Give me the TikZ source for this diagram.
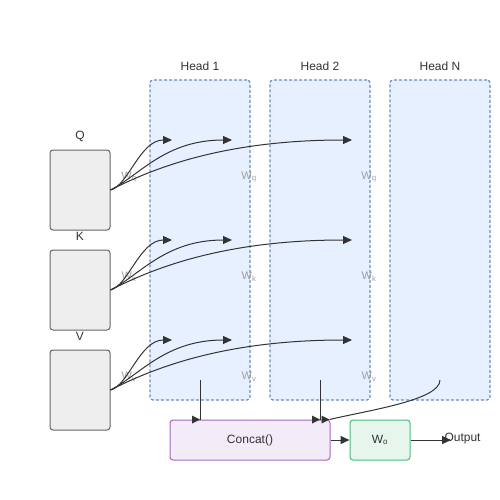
\documentclass[tikz,border=0pt]{standalone}
\usepackage{fontspec}
\setmainfont{Liberation Sans}
\usetikzlibrary{arrows.meta}
\definecolor{headfill}{HTML}{E6F0FE}
\definecolor{headline}{HTML}{6C8EBF}
\definecolor{inpfill}{HTML}{EEEEEE}
\definecolor{inpline}{HTML}{666666}
\definecolor{catfill}{HTML}{F3ECF8}
\definecolor{catline}{HTML}{A567C4}
\definecolor{wofill}{HTML}{E6F6EC}
\definecolor{woline}{HTML}{4DBB7B}
\definecolor{ink}{HTML}{333333}
\begin{document}
\begin{tikzpicture}[
    x=1pt, y=-1pt,
    every node/.style={font=\fontsize{12}{14}\selectfont, text=ink},
    head/.style={draw=headline, fill=headfill, dash pattern=on 3pt off 2pt,
        rounded corners=3pt, line width=1.2pt, minimum width=100pt, minimum height=320pt, inner sep=0pt},
    inp/.style={draw=inpline, fill=inpfill, rounded corners=3pt, line width=1pt,
        minimum width=60pt, minimum height=80pt, inner sep=0pt},
    wlab/.style={font=\fontsize{11}{12}\selectfont, text=gray!75},
    link/.style={draw=ink, line width=1pt, -{Triangle[length=9pt,width=8pt]}},
    wire/.style={draw=ink, line width=1pt}
]
\useasboundingbox (0,0) rectangle (500,500);

% heads
\node[head] (h1) at (200,240) {};
\node[head] (h2) at (320,240) {};
\node[head] (hn) at (440,240) {};
\node (h1t) at (200,66) {Head 1};
\node (h2t) at (320,66) {Head 2};
\node (hnt) at (440,66) {Head N};

% inputs
\node[inp] (q) at (80,190) {};
\node[inp] (k) at (80,290) {};
\node[inp] (v) at (80,390) {};
\node (qt) at (80,136) {Q};
\node (kt) at (80,236) {K};
\node (vt) at (80,336) {V};

% projection labels
\node[wlab] (wq1) at (129,177) {W\textsubscript{q}};
\node[wlab] (wq2) at (249,177) {W\textsubscript{q}};
\node[wlab] (wq3) at (369,177) {W\textsubscript{q}};
\node[wlab] (wk1) at (129,277) {W\textsubscript{k}};
\node[wlab] (wk2) at (249,277) {W\textsubscript{k}};
\node[wlab] (wk3) at (369,277) {W\textsubscript{k}};
\node[wlab] (wv1) at (129,377) {W\textsubscript{v}};
\node[wlab] (wv2) at (249,377) {W\textsubscript{v}};
\node[wlab] (wv3) at (369,377) {W\textsubscript{v}};

% output part
\node[draw=catline, fill=catfill, rounded corners=3pt, line width=1pt,
    minimum width=160pt, minimum height=40pt, inner sep=0pt] (cat) at (250,440) {Concat()};
\node[draw=woline, fill=wofill, rounded corners=3pt, line width=1pt,
    minimum width=60pt, minimum height=40pt, inner sep=0pt] (wo) at (380,440) {W\textsubscript{o}};
\node[anchor=west] (out) at (441,439) {Output};

% arrow ends
\coordinate (q1) at (172,140);
\coordinate (q2) at (232,140);
\coordinate (q3) at (352,140);
\coordinate (k1) at (172,240);
\coordinate (k2) at (232,240);
\coordinate (k3) at (352,240);
\coordinate (v1) at (172,340);
\coordinate (v2) at (232,340);
\coordinate (v3) at (352,340);
\coordinate (o1) at (200,380);
\coordinate (o2) at (320,380);
\coordinate (on) at (440,380);
\coordinate (oe) at (451,440);

\draw[link] (q.east) .. controls (128,186) and (140,140) .. (q1);
\draw[link] (q.east) .. controls (140,175) and (165,140) .. (q2);
\draw[link] (q.east) .. controls (150,170) and (220,140) .. (q3);
\draw[link] (k.east) .. controls (128,286) and (140,240) .. (k1);
\draw[link] (k.east) .. controls (140,275) and (165,240) .. (k2);
\draw[link] (k.east) .. controls (150,270) and (220,240) .. (k3);
\draw[link] (v.east) .. controls (128,386) and (140,340) .. (v1);
\draw[link] (v.east) .. controls (140,375) and (165,340) .. (v2);
\draw[link] (v.east) .. controls (150,370) and (220,340) .. (v3);

% heads into concat
\draw[wire] (o1) -- (o1 |- cat.north);
\draw[wire] (o2) -- (o2 |- cat.north);
\draw[wire] (on) .. controls (440,400) and (370,410) .. ([xshift=-1pt]cat.north east);
\fill[ink] (o1 |- cat.north) -- ++(-8,-4) -- ++(0,8) -- cycle;
\fill[ink] (o2 |- cat.north) -- ++(-8,-4) -- ++(0,8) -- cycle;
\fill[ink] ([xshift=-1pt]cat.north east) -- ++(-8,-4) -- ++(0,8) -- cycle;

\draw[link] (cat.east) -- (wo.west);
\draw[link] (wo.east) -- (oe);
\end{tikzpicture}
\end{document}
